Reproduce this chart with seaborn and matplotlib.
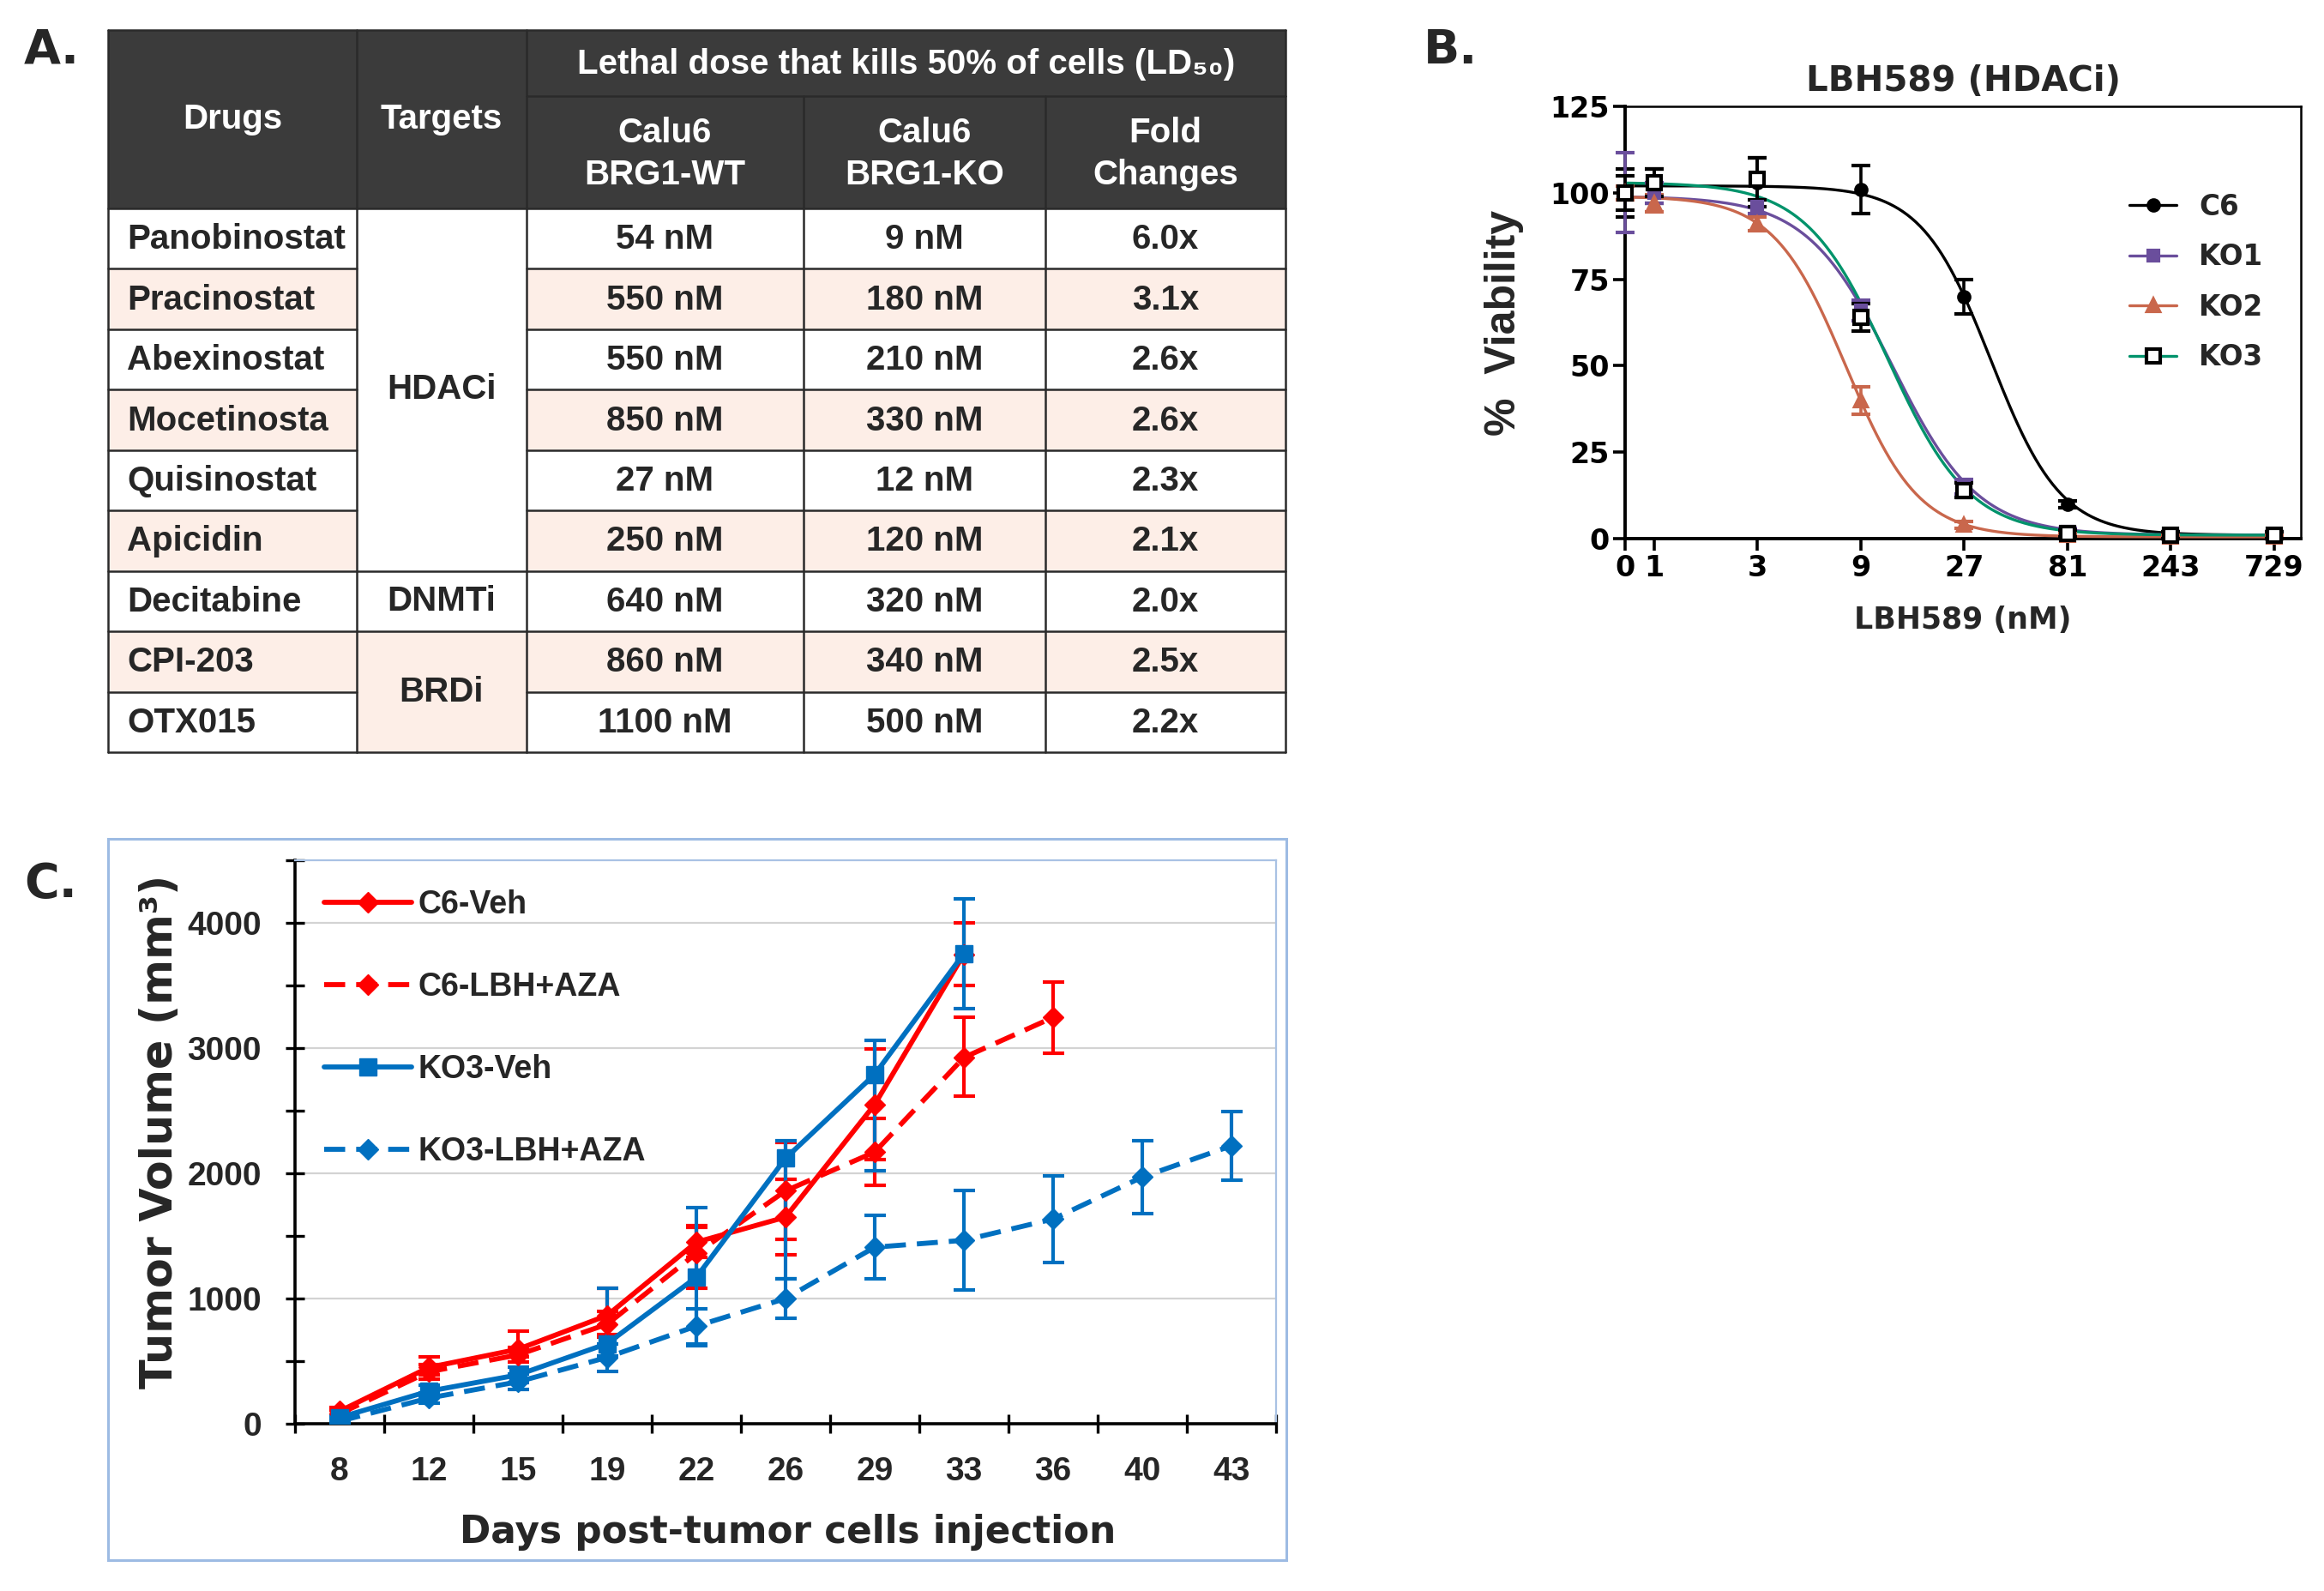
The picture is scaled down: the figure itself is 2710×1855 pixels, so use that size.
import numpy as np
import pandas as pd
import matplotlib
matplotlib.use("Agg")
import matplotlib.pyplot as plt
from matplotlib.patches import Rectangle
from matplotlib.lines import Line2D
from matplotlib.ticker import FixedLocator, NullFormatter
from matplotlib import font_manager
import seaborn as sns

# ---------------- data ----------------
# (A) LD50 table
drugs = ["Panobinostat", "Pracinostat", "Abexinostat", "Mocetinosta", "Quisinostat",
         "Apicidin", "Decitabine", "CPI-203", "OTX015"]
targets = ["HDACi", "DNMTi", "BRDi"]
target_rows = [6, 1, 2]
ld50_wt = ["54 nM", "550 nM", "550 nM", "850 nM", "27 nM", "250 nM", "640 nM", "860 nM", "1100 nM"]
ld50_ko = ["9 nM", "180 nM", "210 nM", "330 nM", "12 nM", "120 nM", "320 nM", "340 nM", "500 nM"]
fold_change = ["6.0x", "3.1x", "2.6x", "2.6x", "2.3x", "2.1x", "2.0x", "2.5x", "2.2x"]

# (B) LBH589 dose response
doses = [0, 1, 3, 9, 27, 81, 243, 729]
c6_mean = [100, 102, 103, 101, 70, 10, 1, 1]
c6_err = [7, 5, 7, 7, 5, 1, 1, 1]
ko1_mean = [100, 100, 96, 66, 15, 2, 1, 1]
ko1_err = [11.5, 3, 2, 3, 2, 1, 1, 1]
ko2_mean = [100, 97, 91, 40, 4, 1, 0.5, 0.5]
ko2_err = [2, 2.5, 2, 4, 1, 0.5, 0.5, 0.5]
ko3_mean = [100, 103, 104, 64, 14, 1.5, 1, 1]
ko3_err = [5, 4, 6, 4, 2, 1, 1, 1]
# fitted 4PL parameters: top, bottom, EC50 (nM), hill
c6_fit = [102, 1, 36, 2.7]
ko1_fit = [99, 1, 12.6, 2.2]
ko2_fit = [99, 0.5, 7.7, 2.6]
ko3_fit = [103, 1, 12.0, 2.3]

# (C) tumor growth
days = [8, 12, 15, 19, 22, 26, 29, 33, 36, 40, 43]
c6_veh = [100, 450, 595, 865, 1450, 1650, 2550, 3750]
c6_veh_lo = [30, 60, 60, 150, 120, 300, 440, 250]
c6_veh_hi = [30, 85, 145, 220, 130, 300, 440, 250]
c6_lbh = [80, 415, 550, 795, 1360, 1860, 2170, 2925, 3245]
c6_lbh_lo = [30, 60, 60, 100, 280, 390, 265, 310, 285]
c6_lbh_hi = [30, 60, 60, 100, 210, 390, 265, 325, 285]
ko3_veh = [50, 260, 390, 640, 1170, 2120, 2790, 3755]
ko3_veh_lo = [20, 50, 60, 100, 550, 960, 770, 440]
ko3_veh_hi = [20, 50, 60, 445, 555, 140, 275, 440]
ko3_lbh = [20, 205, 335, 530, 780, 1000, 1410, 1465, 1635, 1970, 2220]
ko3_lbh_err = [20, 40, 60, 110, 140, 155, 255, 395, 345, 290, 275]

# ---------------- style ----------------
sns.set_theme(style="white")
names = {f.name for f in font_manager.fontManager.ttflist}
ARIAL = ["Liberation Sans", "DejaVu Sans"]
NARROW = ["Liberation Sans Narrow", "Liberation Sans", "DejaVu Sans"] if "Liberation Sans Narrow" in names else ARIAL
DV = ["DejaVu Sans"]
plt.rcParams["font.family"] = ARIAL

W, H = 2710, 1855
fig = plt.figure(figsize=(W / 100, H / 100), dpi=100)

base = fig.add_axes([0, 0, 1, 1], zorder=0)
base.set_xlim(0, W)
base.set_ylim(H, 0)
base.axis("off")

# panel letters
for lab, x, y in [("A.", 28, 74), ("B.", 1660, 74), ("C.", 28, 1046)]:
    base.text(x, y, lab, family=DV, weight="bold", fontsize=40, va="baseline", ha="left")

# ---------------- (A) table ----------------
col_x = [126, 416, 614, 937, 1219, 1499]
top, mid, head_bot, bot = 35, 112, 243, 877
row_h = (bot - head_bot) / len(drugs)
dark = "#3b3b3b"
pink = "#fdeee7"
line_c = "#2a2a2a"
fs_tab = 29

base.add_patch(Rectangle((col_x[0], top), col_x[-1] - col_x[0], head_bot - top, fc=dark, ec="none"))
for r in range(len(drugs)):
    y0 = head_bot + r * row_h
    fc = pink if r % 2 else "white"
    for c in [0, 2, 3, 4]:
        base.add_patch(Rectangle((col_x[c], y0), col_x[c + 1] - col_x[c], row_h, fc=fc, ec="none"))

start = 0
span_edges = [0]
for t, n in zip(targets, target_rows):
    y0 = head_bot + start * row_h
    fc = pink if start % 2 else "white"
    base.add_patch(Rectangle((col_x[1], y0), col_x[2] - col_x[1], n * row_h, fc=fc, ec="none"))
    base.text((col_x[1] + col_x[2]) / 2, y0 + n * row_h / 2, t, fontsize=fs_tab, weight="bold",
              ha="center", va="center")
    start += n
    span_edges.append(start)

# grid lines
for r in range(len(drugs) + 1):
    y = head_bot + r * row_h
    base.plot([col_x[0], col_x[1]], [y, y], color=line_c, lw=1.8)
    base.plot([col_x[2], col_x[5]], [y, y], color=line_c, lw=1.8)
    if r in span_edges:
        base.plot([col_x[1], col_x[2]], [y, y], color=line_c, lw=1.8)
for i, x in enumerate(col_x):
    y_start = mid if i in (3, 4) else top
    base.plot([x, x], [y_start, bot], color=line_c, lw=1.8)
base.plot([col_x[2], col_x[5]], [mid, mid], color=line_c, lw=1.8)
base.plot([col_x[0], col_x[5]], [top, top], color=line_c, lw=1.8)

# header text
hy = (top + head_bot) / 2
base.text((col_x[0] + col_x[1]) / 2, hy, "Drugs", color="white", fontsize=fs_tab, weight="bold",
          ha="center", va="center")
base.text((col_x[1] + col_x[2]) / 2, hy, "Targets", color="white", fontsize=fs_tab, weight="bold",
          ha="center", va="center")
base.text((col_x[2] + col_x[5]) / 2, (top + mid) / 2 + 2, "Lethal dose that kills 50% of cells (LD₅₀)",
          color="white", fontsize=fs_tab, weight="bold", ha="center", va="center", family=ARIAL)
for c, sub in zip([2, 3, 4], ["Calu6\nBRG1-WT", "Calu6\nBRG1-KO", "Fold\nChanges"]):
    base.text((col_x[c] + col_x[c + 1]) / 2, (mid + head_bot) / 2 + 2, sub, color="white",
              fontsize=fs_tab, weight="bold", ha="center", va="center", linespacing=1.35)

# body text
for r in range(len(drugs)):
    yc = head_bot + (r + 0.5) * row_h + 1
    base.text(col_x[0] + 22, yc, drugs[r], fontsize=fs_tab, weight="bold", ha="left", va="center")
    for c, vals in zip([2, 3, 4], [ld50_wt, ld50_ko, fold_change]):
        base.text((col_x[c] + col_x[c + 1]) / 2, yc, vals[r], fontsize=fs_tab, weight="bold",
                  ha="center", va="center")

# outer frame of panel C (chart area)
base.add_patch(Rectangle((126, 978), 1374, 841, fc="none", ec="#9dbbe3", lw=2.2))

# ---------------- (B) dose response ----------------
ZERO_POS = -0.28


def dose_pos(d):
    d = np.asarray(d, dtype=float)
    return np.where(d > 0, np.log(np.maximum(d, 1e-9)) / np.log(3), ZERO_POS)


def four_pl(dose, top_, bottom_, ec50, hill):
    return bottom_ + (top_ - bottom_) / (1 + (dose / ec50) ** hill)


axb = fig.add_axes([1895 / W, 1 - 628 / H, 788 / W, 504 / H], zorder=2)
purple, brown, green = "#6a4e9c", "#c9674c", "#00936b"
series_b = [
    ("C6", c6_mean, c6_err, c6_fit, "black", "o", 9, "black", "black"),
    ("KO1", ko1_mean, ko1_err, ko1_fit, purple, "s", 9, purple, purple),
    ("KO2", ko2_mean, ko2_err, ko2_fit, brown, "^", 10, brown, brown),
    ("KO3", ko3_mean, ko3_err, ko3_fit, green, "s", 12, "white", "black"),
]
xs = np.linspace(ZERO_POS, 6.0, 300)
curve_rows = []
for name, mean, err, fit, col, mk, ms, mfc, mec in series_b:
    curve_rows.append(pd.DataFrame({"x": xs, "y": four_pl(3.0 ** xs, *fit), "line": name}))
curves = pd.concat(curve_rows)
sns.lineplot(data=curves, x="x", y="y", hue="line",
             palette={"C6": "black", "KO1": purple, "KO2": brown, "KO3": green},
             lw=2.4, ax=axb, legend=False, zorder=3)
for name, mean, err, fit, col, mk, ms, mfc, mec in series_b:
    ecol = "black" if name in ("C6", "KO3") else col
    axb.errorbar(dose_pos(doses), mean, yerr=err, fmt=mk, ms=ms, mfc=mfc, mec=mec, mew=3,
                 ecolor=ecol, elinewidth=2.6, capsize=8, capthick=2.8, clip_on=False, zorder=4)

axb.set_xlim(ZERO_POS, 6.26)
axb.set_ylim(0, 125)
axb.set_xticks(dose_pos(doses))
axb.set_xticklabels([str(d) for d in doses])
axb.set_yticks([0, 25, 50, 75, 100, 125])
for sp in axb.spines.values():
    sp.set_color("black")
axb.spines["left"].set_linewidth(2.8)
axb.spines["bottom"].set_linewidth(2.8)
axb.spines["top"].set_linewidth(1.8)
axb.spines["right"].set_linewidth(1.8)
axb.tick_params(axis="both", direction="out", length=10, width=2.6, colors="black", pad=3,
                bottom=True, left=True)
for t in axb.get_xticklabels() + axb.get_yticklabels():
    t.set_family(DV)
    t.set_fontweight("bold")
    t.set_fontsize(24)
axb.set_title("LBH589 (HDACi)", family=DV, weight="bold", fontsize=29, pad=13)
axb.set_xlabel("LBH589 (nM)", family=DV, weight="bold", fontsize=25)
axb.set_ylabel("%  Viability", family=ARIAL, weight="bold", fontsize=36)
axb.xaxis.set_label_coords(0.5, -0.155)
axb.yaxis.set_label_coords(-0.15, 0.5)
axb.grid(False)

hb = [Line2D([], [], color=col, lw=2.4, marker=mk, ms=ms, mfc=mfc, mec=mec, mew=3)
      for name, mean, err, fit, col, mk, ms, mfc, mec in series_b]
legb = axb.legend(hb, [s[0] for s in series_b], loc="upper left", bbox_to_anchor=(0.746, 0.80),
                  frameon=False, borderpad=0, borderaxespad=0, handlelength=1.7, handletextpad=0.8,
                  labelspacing=0.78, prop={"family": DV, "weight": "bold", "size": 23.5})

# ---------------- (C) tumor growth ----------------
axc = fig.add_axes([344 / W, 1 - 1660 / H, 1144 / W, 657 / H], zorder=2)
red, blue = "#ff0000", "#0070c0"
dash = (0, (4.2, 2.2))
series_c = [
    ("C6-Veh", c6_veh, c6_veh_lo, c6_veh_hi, red, "-", "D", 12),
    ("C6-LBH+AZA", c6_lbh, c6_lbh_lo, c6_lbh_hi, red, dash, "D", 12),
    ("KO3-Veh", ko3_veh, ko3_veh_lo, ko3_veh_hi, blue, "-", "s", 15),
    ("KO3-LBH+AZA", ko3_lbh, ko3_lbh_err, ko3_lbh_err, blue, dash, "D", 12),
]
for name, mean, lo, hi, col, ls, mk, ms in series_c:
    idx = np.arange(len(mean))
    axc.errorbar(idx, mean, yerr=[lo, hi], fmt="none", ecolor=col, elinewidth=3, capsize=9,
                 capthick=3, zorder=3)
    df = pd.DataFrame({"day": idx, "vol": mean})
    sns.lineplot(data=df, x="day", y="vol", color=col, linestyle=ls, lw=4.2, marker=mk, ms=ms,
                 mec=col, mfc=col, mew=1, ax=axc, legend=False, zorder=4)

axc.set_xlim(-0.5, len(days) - 0.5)
axc.set_ylim(0, 4500)
axc.xaxis.set_major_locator(FixedLocator(np.arange(len(days))))
axc.set_xticklabels([str(d) for d in days])
axc.xaxis.set_minor_locator(FixedLocator(np.arange(len(days) + 1) - 0.5))
axc.yaxis.set_major_locator(FixedLocator([0, 1000, 2000, 3000, 4000]))
axc.yaxis.set_minor_locator(FixedLocator([500, 1500, 2500, 3500, 4500]))
axc.yaxis.set_minor_formatter(NullFormatter())
axc.tick_params(axis="x", which="major", length=0, pad=27)
axc.tick_params(axis="x", which="minor", direction="inout", length=16, width=2.4, color="black",
                bottom=True)
axc.tick_params(axis="y", which="both", direction="inout", length=16, width=2.4, color="black",
                left=True, pad=20)
for t in axc.get_xticklabels() + axc.get_yticklabels():
    t.set_family(NARROW)
    t.set_fontweight("bold")
    t.set_fontsize(28)
axc.grid(False)
axc.yaxis.grid(True, which="major", color="#d3d3d3", lw=1.6)
axc.set_axisbelow(True)
for side in ["left", "bottom"]:
    axc.spines[side].set_color("black")
    axc.spines[side].set_linewidth(2.6)
for side in ["top", "right"]:
    axc.spines[side].set_color("#a9c2e4")
    axc.spines[side].set_linewidth(1.6)
axc.set_xlabel("Days post-tumor cells injection", family=DV, weight="bold", fontsize=31.5)
axc.set_ylabel("Tumor Volume (mm³)", family=DV, weight="bold", fontsize=36.5)
axc.xaxis.set_label_coords(0.502, -0.16)
axc.yaxis.set_label_coords(-0.115, 0.518)

hc = [Line2D([], [], color=col, lw=4.2, linestyle=ls, marker=mk, ms=ms, mfc=col, mec=col)
      for name, mean, lo, hi, col, ls, mk, ms in series_c]
axc.legend(hc, [s[0] for s in series_c], loc="upper left", bbox_to_anchor=(0.03, 0.948),
           frameon=False, borderpad=0, borderaxespad=0, handlelength=2.7, handletextpad=0.2,
           labelspacing=1.6, prop={"family": ARIAL, "weight": "bold", "size": 27})

fig.savefig("out.png", dpi=100, facecolor="white")
